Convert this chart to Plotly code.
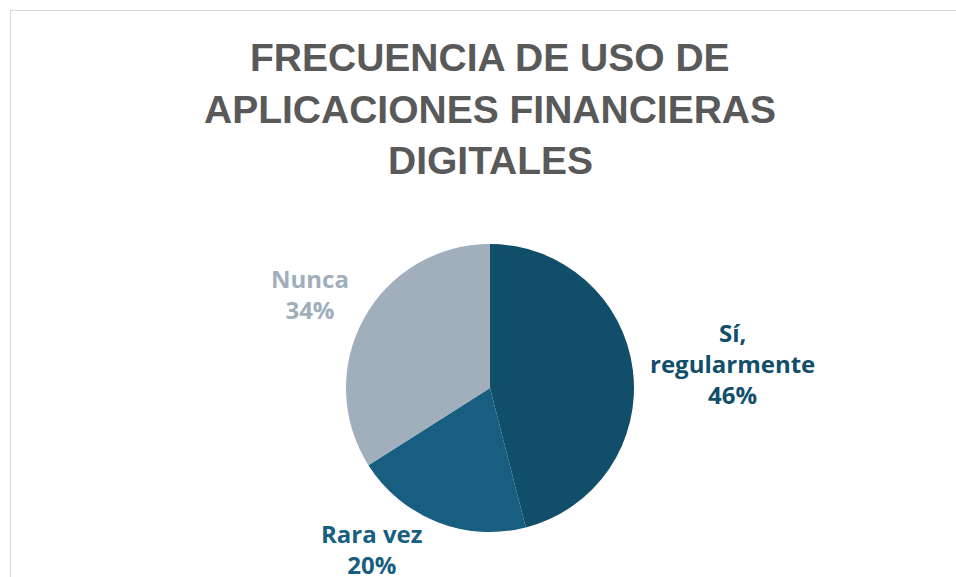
import plotly.graph_objects as go

# Data
categories = ["Sí, regularmente", "Rara vez", "Nunca"]
values = [46, 20, 34]
colors = ["#104e6a", "#175e80", "#a1aebb"]
label_lines = ["Sí,<br>regularmente", "Rara vez", "Nunca"]
title_lines = ["FRECUENCIA DE USO DE", "APLICACIONES FINANCIERAS", "DIGITALES"]

W, H = 956, 577


def px_x(x):
    return x / W


def px_y(y):
    return 1 - y / H


fig = go.Figure()
fig.add_trace(go.Pie(
    labels=categories,
    values=values,
    sort=False,
    direction="clockwise",
    rotation=0,
    marker=dict(colors=colors, line=dict(width=0)),
    textinfo="none",
    hoverinfo="label+percent",
    showlegend=False,
    domain=dict(x=[px_x(200), px_x(780)], y=[px_y(532), px_y(244)]),
))

# Label placements (pixel centers of each label block), same order as categories
label_pos = [(732, 363), (372, 549), (310, 294)]
total = sum(values)
for cat_lines, v, c, (px, py) in zip(label_lines, values, colors, label_pos):
    pct = round(100 * v / total)
    fig.add_annotation(
        x=px_x(px), y=px_y(py), xref="paper", yref="paper",
        xanchor="center", yanchor="middle",
        text=f"{cat_lines}<br>{pct}%",
        showarrow=False,
        font=dict(family="Open Sans, Lato, sans-serif", size=24, color=c, weight="bold"),
        align="center",
    )

title_y = [57, 109.5, 160.5]
for line, ty in zip(title_lines, title_y):
    fig.add_annotation(
        x=px_x(490), y=px_y(ty), xref="paper", yref="paper",
        xanchor="center", yanchor="middle",
        text=line, showarrow=False,
        font=dict(family="Liberation Sans, Arial, sans-serif", size=39, color="#595959", weight="bold"),
        align="center",
    )

# chart frame (only top and left edges fall inside the window)
fig.add_shape(type="line", xref="paper", yref="paper",
              x0=px_x(10.5), x1=1.5, y0=px_y(10.5), y1=px_y(10.5),
              line=dict(color="#d9d9d9", width=1))
fig.add_shape(type="line", xref="paper", yref="paper",
              x0=px_x(10.5), x1=px_x(10.5), y0=-0.5, y1=px_y(10.5),
              line=dict(color="#d9d9d9", width=1))

fig.update_layout(
    width=W, height=H,
    margin=dict(l=0, r=0, t=0, b=0),
    paper_bgcolor="white", plot_bgcolor="white",
)

fig.write_html(
    "out.html",
    config={"displayModeBar": False},
    post_script="document.body.style.margin='0';document.body.style.overflow='hidden';"
                "document.documentElement.style.overflow='hidden';",
)
